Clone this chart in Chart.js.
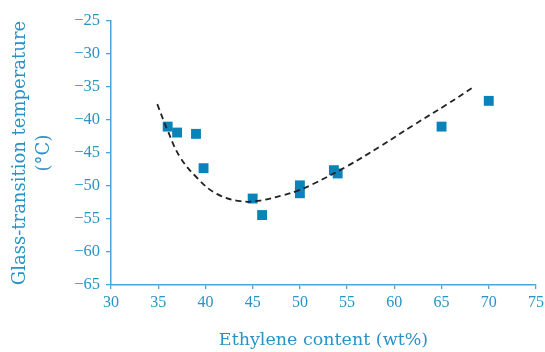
<!DOCTYPE html>
<html>
<head>
<meta charset="utf-8">
<script src="https://cdn.jsdelivr.net/npm/chart.js@4/dist/chart.umd.min.js"></script>
<style>
  html, body { margin: 0; padding: 0; background: #ffffff; }
  #wrap { width: 545px; height: 352px; position: relative; }
</style>
</head>
<body>
<div id="wrap"><canvas id="c" width="545" height="352"></canvas></div>
<script>
// Measured glass-transition temperatures vs ethylene content
const ethyleneContent = [36, 37, 39, 39.8, 45, 46, 50, 50, 53.6, 54, 65, 70];
const glassTransition = [-41, -41.9, -42.1, -47.3, -51.9, -54.4, -49.9, -51.1, -47.6, -48.1, -41, -37.1];

// Fitted trend curve (dashed)
const trendX = [34.9, 36.0, 37.3, 39.2, 41.2, 43.7, 45.8, 48.2, 49.8, 51.4, 55.0, 58.5, 62.0, 65.5, 68.4];
const trendY = [-37.6, -41.6, -45.6, -48.9, -51.2, -52.3, -52.2, -51.4, -50.7, -49.7, -47.0, -44.0, -40.8, -37.7, -35.0];

// Axis ticks
const xTicks = [30, 35, 40, 45, 50, 55, 60, 65, 70, 75];
const yTicks = [-65, -60, -55, -50, -45, -40, -35, -30, -25];

const textColor = '#2a93c6';
const axisColor = '#4ba5d4';
const markColor = '#0a84b8';

const pts = ethyleneContent.map((x, i) => ({ x, y: glassTransition[i] }));
const trend = trendX.map((x, i) => ({ x, y: trendY[i] }));

new Chart(document.getElementById('c'), {
  type: 'scatter',
  data: {
    datasets: [
      {
        type: 'line',
        data: trend,
        borderColor: '#222222',
        borderWidth: 1.8,
        borderDash: [6, 4],
        pointRadius: 0,
        tension: 0.4,
        fill: false,
        order: 0
      },
      {
        data: pts,
        pointStyle: 'rect',
        pointRadius: 7,
        pointHoverRadius: 7,
        backgroundColor: markColor,
        borderColor: markColor,
        borderWidth: 0,
        order: 1
      }
    ]
  },
  options: {
    responsive: false,
    animation: false,
    devicePixelRatio: 1,
    layout: { padding: { top: 21, right: 0, left: 0, bottom: 0 } },
    plugins: { legend: { display: false }, tooltip: { enabled: false } },
    scales: {
      x: {
        type: 'linear',
        min: 30, max: 75,
        afterBuildTicks: (s) => { s.ticks = xTicks.map(v => ({ value: v })); },
        afterFit: (s) => { s.height = 67; s.paddingRight = 9; s.paddingLeft = 0; },
        ticks: {
          color: textColor,
          font: { family: 'Liberation Serif', size: 16 },
          padding: 4,
          maxRotation: 0
        },
        grid: { display: true, drawOnChartArea: false, drawTicks: true, tickLength: 4, color: axisColor, lineWidth: 1.3 },
        border: { display: true, color: axisColor, width: 1.5 },
        title: {
          display: true,
          text: 'Ethylene content (wt%)',
          color: textColor,
          font: { family: 'DejaVu Serif', size: 17.5, lineHeight: 1.2 },
          padding: { top: 0, bottom: 1 }
        }
      },
      y: {
        type: 'linear',
        min: -65, max: -25,
        afterBuildTicks: (s) => { s.ticks = yTicks.map(v => ({ value: v })); },
        afterFit: (s) => { s.width = 111; },
        ticks: {
          color: textColor,
          font: { family: 'Liberation Serif', size: 16.5 },
          padding: 6,
          callback: (v) => String(v).replace('-', '\u2212')
        },
        grid: { display: true, drawOnChartArea: false, drawTicks: true, tickLength: 5, color: axisColor, lineWidth: 1.3 },
        border: { display: true, color: axisColor, width: 1.5 },
        title: {
          display: true,
          text: ['Glass-transition temperature', '(\u00B0C)'],
          color: textColor,
          font: { family: 'DejaVu Serif', size: 18, lineHeight: 1.35 },
          padding: { top: 8, bottom: 0 }
        }
      }
    }
  }
});
</script>
</body>
</html>
